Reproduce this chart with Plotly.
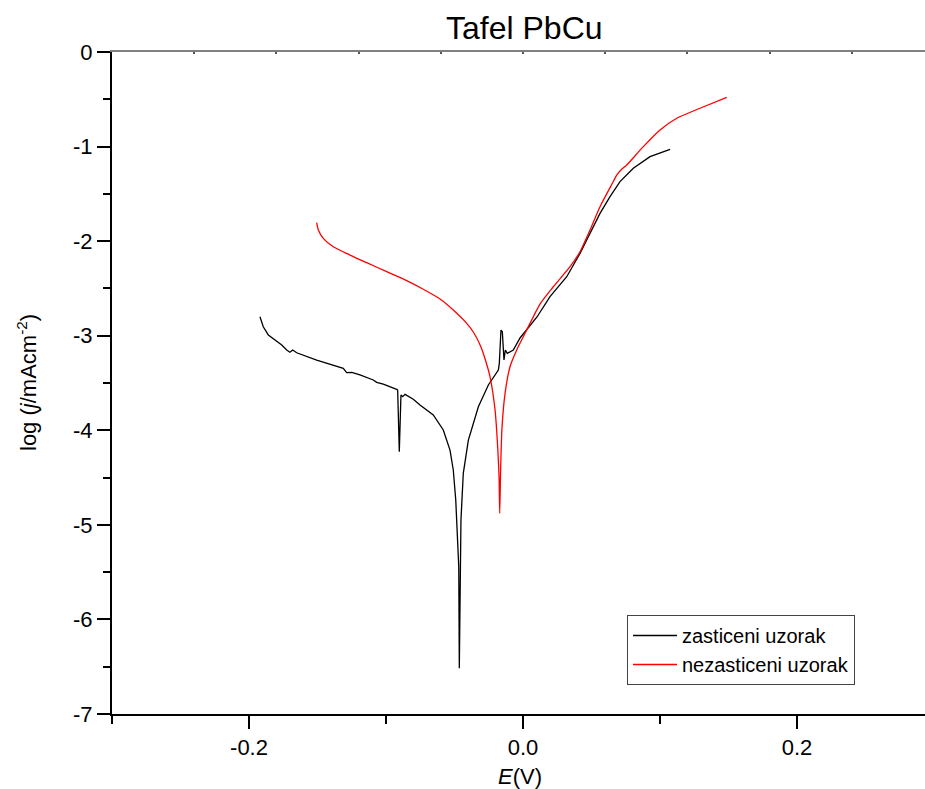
import plotly.graph_objects as go

# zasticeni uzorak (black)
E_zast = [-0.1920, -0.1896, -0.1859, -0.1810, -0.1761, -0.1725, -0.1701, -0.1681, -0.1652,
          -0.1506, -0.1312, -0.1287, -0.1250, -0.1190, -0.1093, -0.1068, -0.1020, -0.0922,
          -0.0915, -0.0903, -0.0891, -0.0878, -0.0861, -0.0801, -0.0752, -0.0655, -0.0582,
          -0.0533, -0.0509, -0.0491, -0.0480, -0.0469, -0.0465, -0.0460, -0.0453, -0.0436,
          -0.0399, -0.0326, -0.0253, -0.0180, -0.0173, -0.0161, -0.0151, -0.0139, -0.0129,
          -0.0115, -0.0095, -0.0071, -0.0022, 0.0102, 0.0197, 0.0319, 0.0416, 0.0489,
          0.0562, 0.0635, 0.0708, 0.0805, 0.0927, 0.1073]
logj_zast = [-2.799, -2.905, -2.992, -3.045, -3.098, -3.151, -3.175, -3.151, -3.180,
             -3.257, -3.345, -3.391, -3.387, -3.415, -3.468, -3.493, -3.511, -3.567,
             -3.574, -4.226, -3.627, -3.645, -3.620, -3.672, -3.733, -3.838, -3.997,
             -4.209, -4.420, -4.737, -5.020, -5.442, -6.517, -5.442, -4.949, -4.455,
             -4.103, -3.751, -3.521, -3.363, -3.292, -2.940, -2.958, -3.257, -3.151,
             -3.186, -3.169, -3.151, -3.024, -2.802, -2.587, -2.376, -2.129, -1.917,
             -1.706, -1.530, -1.371, -1.230, -1.107, -1.029]

# nezasticeni uzorak (red)
E_nezast = [-0.1506, -0.1494, -0.1458, -0.1385, -0.1263, -0.1141, -0.0995, -0.0849, -0.0728,
            -0.0606, -0.0509, -0.0411, -0.0358, -0.0307, -0.0270, -0.0241, -0.0204, -0.0188,
            -0.0175, -0.0170, -0.0163, -0.0153, -0.0131, -0.0095, -0.0046, 0.0027, 0.0124,
            0.0221, 0.0343, 0.0416, 0.0489, 0.0562, 0.0659, 0.0684, 0.0720, 0.0757, 0.0878,
            0.1000, 0.1122, 0.1292, 0.1487]
logj_nezast = [-1.805, -1.882, -1.970, -2.059, -2.147, -2.228, -2.323, -2.418, -2.509,
               -2.612, -2.728, -2.869, -2.971, -3.119, -3.278, -3.433, -3.786, -4.103,
               -4.491, -4.878, -4.385, -3.962, -3.609, -3.328, -3.151, -2.940, -2.665,
               -2.482, -2.270, -2.112, -1.882, -1.636, -1.370, -1.301, -1.240, -1.195, -1.001,
               -0.825, -0.701, -0.595, -0.479]

x_major_ticks = [-0.2, 0.0, 0.2]
x_tick_labels = ["-0.2", "0.0", "0.2"]
y_major_ticks = [0, -1, -2, -3, -4, -5, -6, -7]
y_tick_labels = ["0", "-1", "-2", "-3", "-4", "-5", "-6", "-7"]

FONT = "Liberation Sans, Arial, sans-serif"
XRANGE = [-0.3, 0.2934]

W, H = 925, 789
L, R, T, B = 112, 0, 52, 789 - 714
PW, PH = W - L - R, H - T - B


def px_x(p):  # page pixel -> paper x
    return (p - L) / PW


def px_y(p):  # page pixel -> paper y
    return (H - B - p) / PH


fig = go.Figure()
fig.add_trace(go.Scatter(x=E_zast, y=logj_zast, mode="lines", name="zasticeni uzorak",
                         line=dict(color="black", width=1.3)))
fig.add_trace(go.Scatter(x=E_nezast, y=logj_nezast, mode="lines", name="nezasticeni uzorak",
                         line=dict(color="red", width=1.3, shape="spline", smoothing=0.7)))
# invisible trace to activate top axis
fig.add_trace(go.Scatter(x=[0], y=[0], xaxis="x2", mode="markers", marker=dict(opacity=0),
                         showlegend=False, hoverinfo="skip"))

fig.update_layout(
    width=W, height=H,
    margin=dict(l=L, r=R, t=T, b=B, autoexpand=False),
    paper_bgcolor="white", plot_bgcolor="white",
    font=dict(family=FONT, color="black", size=22),
    showlegend=True,
    legend=dict(x=px_x(627), y=px_y(615), xanchor="left", yanchor="top",
                bgcolor="white", bordercolor="#444", borderwidth=1,
                font=dict(family=FONT, size=20), tracegroupgap=0,
                itemwidth=44),
    xaxis=dict(range=XRANGE, showgrid=False, zeroline=False, automargin=False,
               showline=True, linecolor="black", linewidth=2,
               ticks="outside", ticklen=13, tickwidth=2, tickcolor="black",
               tickvals=x_major_ticks, ticktext=x_tick_labels,
               tickfont=dict(size=22),
               minor=dict(dtick=0.1, tick0=0, ticks="outside", ticklen=8, tickwidth=2, tickcolor="black")),
    xaxis2=dict(range=XRANGE, overlaying="x", side="top", showgrid=False, zeroline=False,
                automargin=False,
                showline=True, linecolor="#808080", linewidth=1.5,
                ticks="inside", ticklen=2, tickwidth=2, tickcolor="#555",
                dtick=0.06, tick0=0, showticklabels=False),
    yaxis=dict(range=[-7, 0], showgrid=False, zeroline=False, automargin=False,
               showline=True, linecolor="black", linewidth=2,
               ticks="outside", ticklen=13, tickwidth=2, tickcolor="black",
               tickvals=y_major_ticks, ticktext=y_tick_labels,
               tickfont=dict(size=22),
               minor=dict(dtick=0.5, tick0=0, ticks="outside", ticklen=7, tickwidth=2, tickcolor="black")),
)

fig.add_annotation(text="Tafel PbCu", xref="paper", yref="paper",
                   x=px_x(524), y=px_y(28), xanchor="center", yanchor="middle",
                   showarrow=False, font=dict(family=FONT, size=32))
fig.add_annotation(text="<i>E</i>(V)", xref="paper", yref="paper",
                   x=px_x(520), y=px_y(776), xanchor="center", yanchor="middle",
                   showarrow=False, font=dict(family=FONT, size=22))
fig.add_annotation(text="log (<i>j</i>/mAcm<sup>-2</sup>)", xref="paper", yref="paper",
                   x=px_x(27), y=px_y(383), xanchor="center", yanchor="middle",
                   textangle=-90, showarrow=False, font=dict(family=FONT, size=22))

fig.write_html(
    "out.html",
    config=dict(displayModeBar=False),
    post_script="document.body.style.margin='0';document.body.style.overflow='hidden';",
)
